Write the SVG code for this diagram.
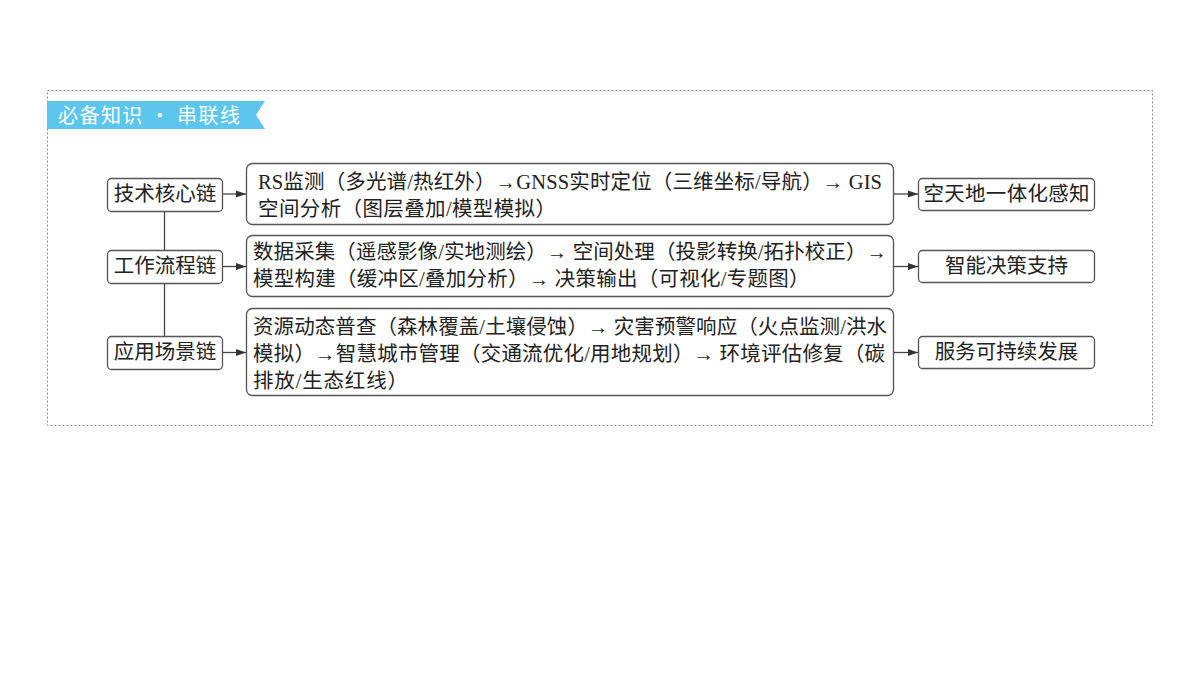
<svg xmlns="http://www.w3.org/2000/svg" width="1200" height="675" viewBox="0 0 1200 675">
<defs>
<style>
.box{fill:#fff;stroke:#555;stroke-width:1.3}
.t{font-family:"Liberation Serif","Noto Sans CJK SC",serif;font-size:20.5px;fill:#222}
.c{text-anchor:middle}
.ln{stroke:#444;stroke-width:1.3;fill:none}
</style>
<marker id="ah" viewBox="0 0 10 8" refX="10" refY="4" markerWidth="10" markerHeight="8" markerUnits="userSpaceOnUse" orient="auto">
<path d="M0,0.5 L10,4 L0,7.5 Z" fill="#333"/>
</marker>
</defs>
<rect width="1200" height="675" fill="#fff"/>
<rect x="47.5" y="90.5" width="1105" height="335" fill="none" stroke="#8a8a8a" stroke-width="1" stroke-dasharray="2,2"/>
<g id="banner">
<polygon points="47,101 265,101 256,115 265,129 47,129" fill="#5cc6ee"/>
<text x="58" y="123" textLength="182" lengthAdjust="spacing" style="font-family:'Noto Sans CJK SC','Noto Sans',sans-serif;font-size:20px;fill:#fff">必备知识 · 串联线</text>
</g>
<g id="connectors">
<line class="ln" x1="164.5" y1="211" x2="164.5" y2="336"/>
<line class="ln" x1="222" y1="194" x2="246" y2="194" marker-end="url(#ah)"/>
<line class="ln" x1="222" y1="266.5" x2="246" y2="266.5" marker-end="url(#ah)"/>
<line class="ln" x1="222" y1="352.5" x2="246" y2="352.5" marker-end="url(#ah)"/>
<line class="ln" x1="893" y1="194" x2="918" y2="194" marker-end="url(#ah)"/>
<line class="ln" x1="893" y1="266.5" x2="918" y2="266.5" marker-end="url(#ah)"/>
<line class="ln" x1="893" y1="352.5" x2="918" y2="352.5" marker-end="url(#ah)"/>
</g>
<g id="n-tech">
<rect class="box" x="107.5" y="178.5" width="115" height="33" rx="4"/>
<text class="t c" x="165" y="201">技术核心链</text>
</g>
<g id="n-work">
<rect class="box" x="107.5" y="250.5" width="115" height="33" rx="4"/>
<text class="t c" x="165" y="273">工作流程链</text>
</g>
<g id="n-app">
<rect class="box" x="107.5" y="336.5" width="115" height="33" rx="4"/>
<text class="t c" x="165" y="359">应用场景链</text>
</g>
<g id="n-tech-detail">
<rect class="box" x="246.5" y="163.5" width="647" height="61" rx="6"/>
<text class="t" x="258" y="189" textLength="624" lengthAdjust="spacing">RS监测（多光谱/热红外）→GNSS实时定位（三维坐标/导航）→ GIS</text>
<text class="t" x="258" y="216" textLength="298" lengthAdjust="spacing">空间分析（图层叠加/模型模拟）</text>
</g>
<g id="n-work-detail">
<rect class="box" x="246.5" y="235.5" width="647" height="61" rx="6"/>
<text class="t" x="253" y="259" textLength="634" lengthAdjust="spacing">数据采集（遥感影像/实地测绘）→ 空间处理（投影转换/拓扑校正）→</text>
<text class="t" x="253" y="286" style="letter-spacing:0.25px">模型构建（缓冲区/叠加分析）→ 决策输出（可视化/专题图）</text>
</g>
<g id="n-app-detail">
<rect class="box" x="246.5" y="308.5" width="647" height="87" rx="6"/>
<text class="t" x="253" y="334" textLength="634" lengthAdjust="spacing">资源动态普查（森林覆盖/土壤侵蚀）→ 灾害预警响应（火点监测/洪水</text>
<text class="t" x="253" y="361" textLength="632" lengthAdjust="spacing">模拟）→智慧城市管理（交通流优化/用地规划）→ 环境评估修复（碳</text>
<text class="t" x="253" y="388" textLength="155" lengthAdjust="spacing">排放/生态红线）</text>
</g>
<g id="n-sense">
<rect class="box" x="918.5" y="178.5" width="176" height="32" rx="4"/>
<text class="t c" x="1006.5" y="201" textLength="166" lengthAdjust="spacing">空天地一体化感知</text>
</g>
<g id="n-decision">
<rect class="box" x="918.5" y="250.5" width="176" height="32" rx="4"/>
<text class="t c" x="1006.5" y="273">智能决策支持</text>
</g>
<g id="n-service">
<rect class="box" x="918.5" y="336.5" width="176" height="32" rx="4"/>
<text class="t c" x="1006.5" y="359">服务可持续发展</text>
</g>
</svg>
